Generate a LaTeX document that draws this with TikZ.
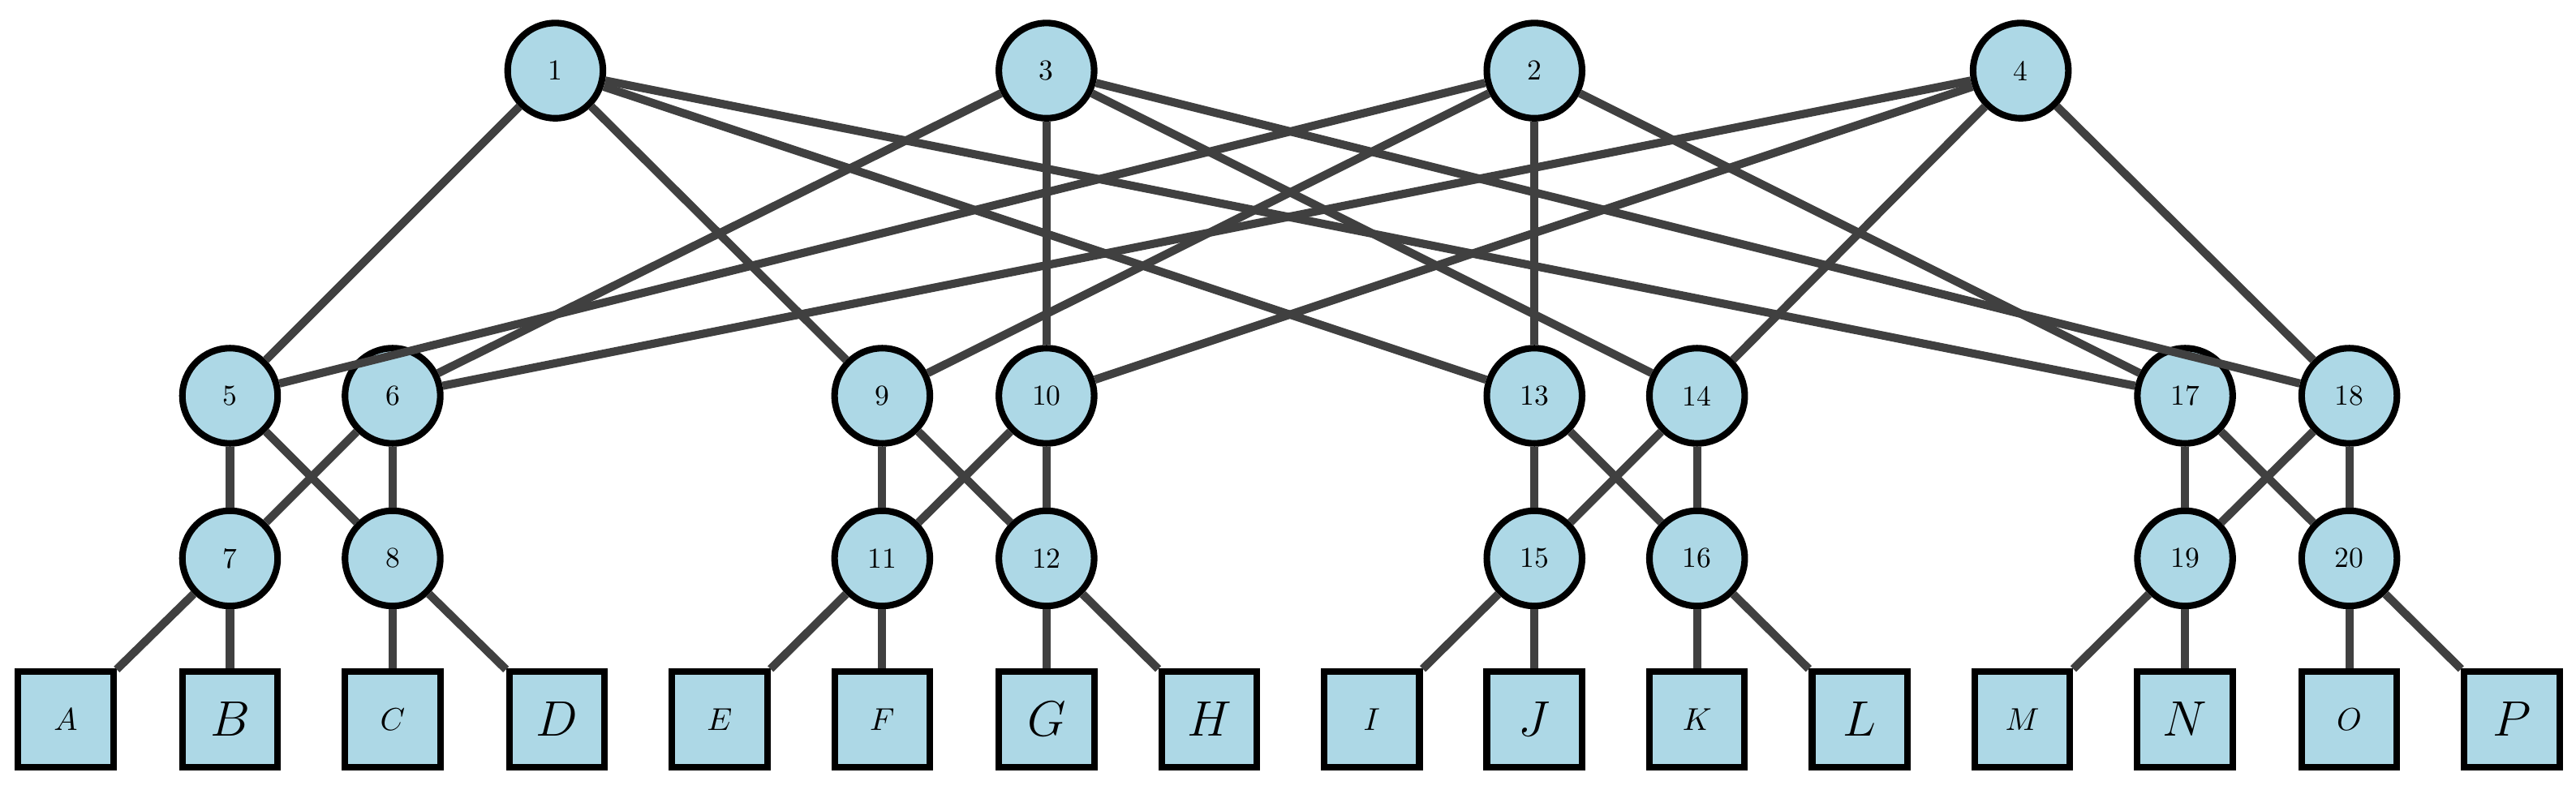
\documentclass[tikz,border=0pt]{standalone}
\usepackage{tikz}
\usetikzlibrary{positioning}
\definecolor{nodeblue}{RGB}{173,216,230}
\definecolor{edgegray}{RGB}{64,64,64}
\tikzstyle{switch} = [circle, draw=black, line width=0.08cm, fill=nodeblue,
    minimum size=1.16cm, inner sep=0pt, font=\fontsize{10}{12}\selectfont]
\tikzstyle{host} = [rectangle, draw=black, line width=0.08cm, fill=nodeblue,
    minimum size=1.16cm, inner sep=0pt]
\tikzstyle{link} = [draw=edgegray, line width=0.1cm]

\begin{document}
\begin{tikzpicture}[x=0.02cm, y=-0.02cm]
  \useasboundingbox (0,0) rectangle (1568,483);
  % Place nodes
  \node [switch] (c1) at (338,43) {1};
  \node [switch] (c3) at (637,43) {3};
  \node [switch] (c2) at (934,43) {2};
  \node [switch] (c4) at (1230,43) {4};
  \foreach \n/\x in {5/140, 6/239, 9/537, 10/637, 13/934, 14/1033, 17/1330, 18/1430}
    \node [switch] (a\n) at (\x,241) {\n};
  \foreach \n/\x in {7/140, 8/239, 11/537, 12/637, 15/934, 16/1033, 19/1330, 20/1430}
    \node [switch] (e\n) at (\x,340) {\n};
  \foreach \h/\x/\s in {A/40/11, B/140/16, C/239/11, D/339/16, E/438/11, F/537/11,
      G/637/16, H/736/16, I/835/11, J/934/16, K/1033/11, L/1132/16,
      M/1231/11, N/1330/16, O/1430/11, P/1529/16}
    \node [host, font=\fontsize{\s}{\s}\selectfont] (h\h) at (\x,438) {$\h$};

  % Core links
  \begin{scope}[on background layer/.style={}]
  \foreach \a in {5,9,13,17} {
    \path [link] (c1) -- (a\a);
    \path [link] (c2) -- (a\a);
  }
  \foreach \a in {6,10,14,18} {
    \path [link] (c3) -- (a\a);
    \path [link] (c4) -- (a\a);
  }
  % Pod links
  \foreach \u/\v/\p/\q in {5/6/7/8, 9/10/11/12, 13/14/15/16, 17/18/19/20} {
    \path [link] (a\u) -- (e\p);
    \path [link] (a\u) -- (e\q);
    \path [link] (a\v) -- (e\p);
    \path [link] (a\v) -- (e\q);
  }
  % Host links
  \foreach \e/\l/\r in {7/A/B, 8/C/D, 11/E/F, 12/G/H, 15/I/J, 16/K/L, 19/M/N, 20/O/P} {
    \path [link] (e\e) -- (h\l);
    \path [link] (e\e) -- (h\r);
  }
  \end{scope}
\end{tikzpicture}
\end{document}
